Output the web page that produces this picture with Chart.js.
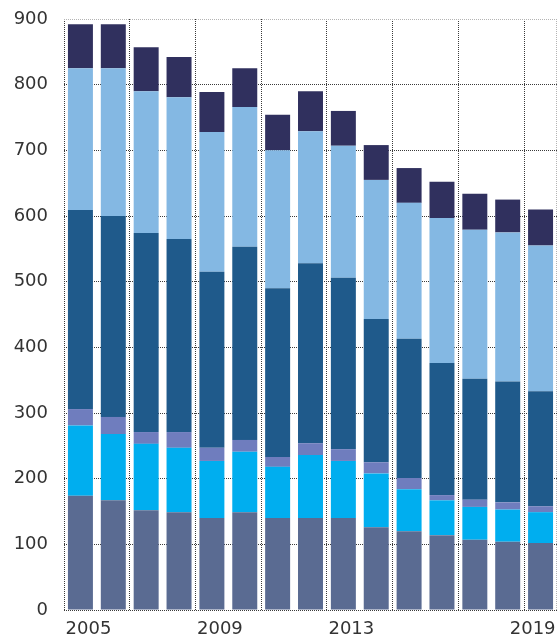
<!DOCTYPE html>
<html><head><meta charset="utf-8">
<script src="https://cdn.jsdelivr.net/npm/chart.js@4"></script>
<style>html,body{margin:0;padding:0;background:#fff}</style>
</head><body>
<canvas id="c" width="560" height="639"></canvas>
<script>
const years = ['2005','2006','2007','2008','2009','2010','2011','2012','2013','2014','2015','2016','2017','2018','2019'];
const xTickLabels = ['2005','','','','2009','','','','2013','','','','','','2019'];
const yMin = 0, yMax = 900, yStep = 100;
const series1 = [174,167,152,149,140,149,140,140,140,126,120,114,107,104,102];
const series2 = [107,101,101,98,87,92,78,96,87,82,64,53,50,49,47];
const series3 = [25,26,18,24,20,18,15,18,18,17,17,8,11,11,9];
const series4 = [303,306,303,294,268,294,257,274,261,218,212,201,184,184,175];
const series5 = [216,225,216,216,213,213,210,201,201,212,207,221,227,227,222];
const series6 = [67,67,67,61,61,59,54,61,53,53,53,55,55,50,55];
const colors = ['#5a6b92','#00aeef','#6f7dbe','#1f5a8b','#84b8e3','#30305e'];

const font = {family: '"DejaVu Sans", sans-serif', size: 18};
const textColor = '#333333';
const gridDark = '#3a3a3a';
const gridLight = '#b4b4b4';
const allSeries = [series1, series2, series3, series4, series5, series6];

function xGridColor(ctx) {
  const i = ctx.index;
  if (typeof i !== 'number') return gridLight;
  return i % 2 === 0 ? gridDark : 'rgba(0,0,0,0)';
}

new Chart(document.getElementById('c'), {
  type: 'bar',
  data: {
    labels: years,
    datasets: allSeries.map((d, k) => ({
      data: d, backgroundColor: colors[k], borderWidth: 0,
      categoryPercentage: 1, barPercentage: 0.76
    }))
  },
  options: {
    responsive: false, animation: false,
    layout: {padding: {top: 19, right: 3, left: 0, bottom: 0}},
    plugins: {legend: {display: false}, tooltip: {enabled: false}},
    scales: {
      x: {
        stacked: true, offset: true,
        grid: {offset: true, drawTicks: false, lineWidth: 1, color: xGridColor},
        border: {display: false, dash: [1, 1]},
        ticks: {autoSkip: false, maxRotation: 0, minRotation: 0, font, color: textColor, padding: 9, labelOffset: 8,
          callback: (v, i) => i < xTickLabels.length - 1 ? xTickLabels[i] : ''},
        afterFit: s => { s.height = 29; s.paddingLeft = 0; s.paddingRight = 0; }
      },
      x2: {
        type: 'category', position: {y: 0}, offset: true,
        grid: {display: false, drawTicks: false},
        border: {display: false},
        ticks: {autoSkip: false, maxRotation: 0, minRotation: 0, font, color: textColor, padding: 9, align: 'end', labelOffset: 15,
          callback: (v, i) => i === xTickLabels.length - 1 ? xTickLabels[i] : ''}
      },
      y: {
        stacked: true, min: yMin, max: yMax,
        grid: {drawTicks: false, lineWidth: 1,
          color: ctx => (ctx.tick && ctx.tick.value === yMax) ? gridLight : gridDark},
        border: {display: false, dash: [1, 1]},
        ticks: {stepSize: yStep, font, color: textColor, padding: 16},
        afterFit: s => { s.width = 64; s.paddingTop = 0; s.paddingBottom = 0; }
      }
    }
  }
});
</script>
</body></html>
